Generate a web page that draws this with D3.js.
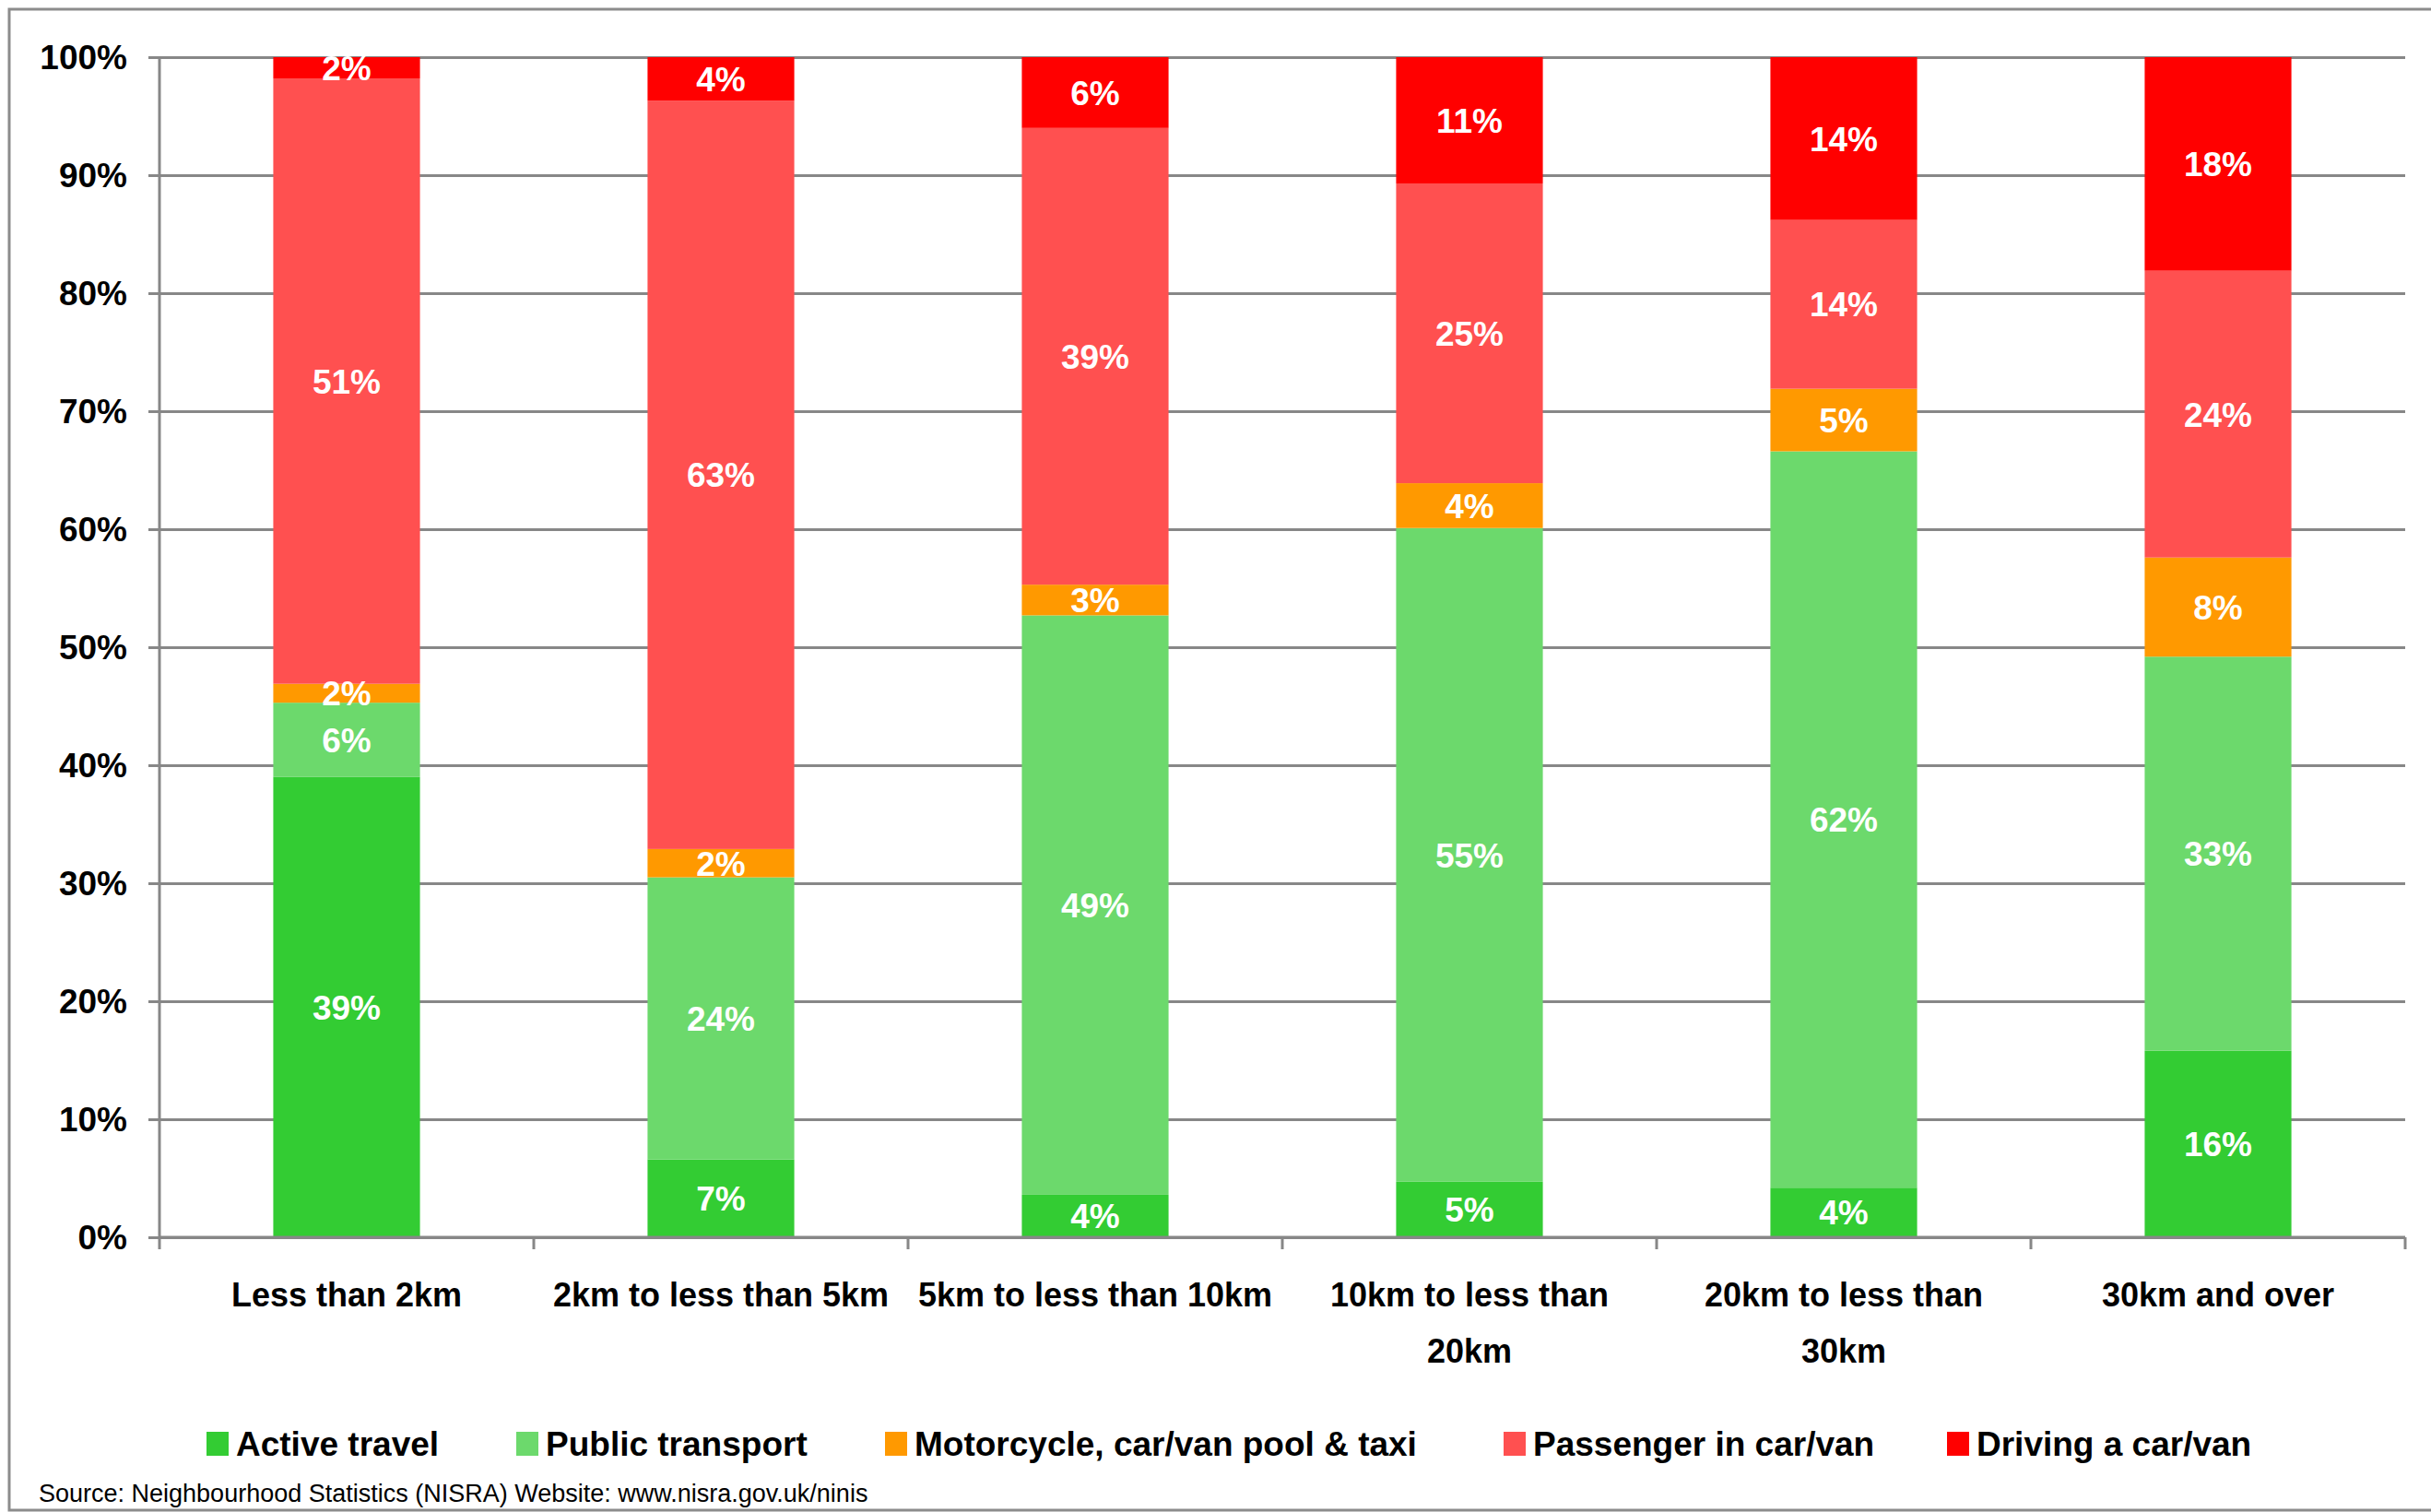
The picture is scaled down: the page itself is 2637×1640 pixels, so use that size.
<!DOCTYPE html>
<html>
<head>
<meta charset="utf-8">
<script src="https://cdn.jsdelivr.net/npm/d3@7"></script>
<style>
  html, body { margin: 0; padding: 0; background: #fff; }
  svg { display: block; }
  text { font-family: "Liberation Sans", Arial, sans-serif; }
</style>
</head>
<body>
<svg id="chart" width="2637" height="1640"></svg>
<script>
// categories (distance travelled) and the line breaks used under the axis
const categories = ["Less than 2km", "2km to less than 5km", "5km to less than 10km",
    "10km to less than 20km", "20km to less than 30km", "30km and over"]
const categoryLines = [["Less than 2km"], ["2km to less than 5km"], ["5km to less than 10km"],
    ["10km to less than", "20km"], ["20km to less than", "30km"], ["30km and over"]]

const seriesNames = ["Active travel", "Public transport", "Motorcycle, car/van pool & taxi",
    "Passenger in car/van", "Driving a car/van"]
const seriesColors = ["#33cc33", "#6cd96c", "#ff9900", "#ff5050", "#ff0000"]

// percentages per series, in category order
const activeTravel = [39.0, 6.6, 3.6, 4.7, 4.2, 15.8]
const publicTransport = [6.3, 23.9, 49.1, 55.4, 62.4, 33.4]
const motorcycleTaxi = [1.6, 2.4, 2.6, 3.8, 5.3, 8.4]
const passenger = [51.3, 63.4, 38.7, 25.4, 14.3, 24.3]
const driving = [1.8, 3.7, 6.0, 10.7, 13.8, 18.1]

const yTicks = [0, 10, 20, 30, 40, 50, 60, 70, 80, 90, 100]
const sourceText = "Source: Neighbourhood Statistics (NISRA) Website: www.nisra.gov.uk/ninis"

const seriesValues = [activeTravel, publicTransport, motorcycleTaxi, passenger, driving]

// rows for d3.stack
const rows = categories.map((c, i) => {
    const row = { category: c }
    seriesNames.forEach((s, j) => { row[s] = seriesValues[j][i] })
    return row
})

const svg = d3.select("#chart")
const gridColor = "#878787"

// outer frame
svg.append("rect")
    .attr("x", 10).attr("y", 10)
    .attr("width", 2640).attr("height", 1628)
    .attr("fill", "none")
    .attr("stroke", "#8c8c8c")
    .attr("stroke-width", 3)

const plot = { left: 173, right: 2609, top: 62, bottom: 1342 }

const x = d3.scaleBand()
    .domain(categories)
    .range([plot.left, plot.right])
    .paddingInner(0.608)
    .paddingOuter(0.304)

const y = d3.scaleLinear()
    .domain([0, 100])
    .range([plot.bottom, plot.top])

// gridlines + y axis
const yAxis = d3.axisLeft(y)
    .tickValues(yTicks)
    .tickFormat(d => d + "%")
    .tickSize(-(plot.right - plot.left))
    .tickPadding(35)

const gy = svg.append("g")
    .attr("transform", `translate(${plot.left},0)`)
    .call(yAxis)
gy.select(".domain").remove()
gy.selectAll(".tick line")
    .attr("x1", -12)
    .attr("stroke", gridColor)
    .attr("stroke-width", 3)
gy.selectAll(".tick text")
    .attr("font-size", 37)
    .attr("font-weight", "bold")
    .attr("fill", "#000")
    .attr("dy", "0.35em")

// vertical axis line
svg.append("line")
    .attr("x1", plot.left).attr("x2", plot.left)
    .attr("y1", plot.top).attr("y2", plot.bottom)
    .attr("stroke", gridColor).attr("stroke-width", 3)

// stacked bars
const stack = d3.stack().keys(seriesNames)
const layers = stack(rows)

const layerG = svg.append("g").selectAll("g")
    .data(layers)
    .join("g")
    .attr("fill", (d, i) => seriesColors[i])

layerG.selectAll("rect")
    .data(d => d)
    .join("rect")
    .attr("x", d => x(d.data.category))
    .attr("width", x.bandwidth())
    .attr("y", d => y(d[1]))
    .attr("height", d => y(d[0]) - y(d[1]))

// x axis line and category separator ticks
const bounds = d3.range(categories.length + 1).map(i => plot.left + i * x.step())
svg.append("line")
    .attr("x1", plot.left).attr("x2", plot.right)
    .attr("y1", plot.bottom).attr("y2", plot.bottom)
    .attr("stroke", gridColor).attr("stroke-width", 3)
svg.append("g").selectAll("line")
    .data(bounds)
    .join("line")
    .attr("x1", d => d).attr("x2", d => d)
    .attr("y1", plot.bottom).attr("y2", plot.bottom + 13)
    .attr("stroke", gridColor).attr("stroke-width", 3)

// data labels
const labelG = svg.append("g")
layers.forEach(layer => {
    labelG.selectAll(null)
        .data(layer)
        .join("text")
        .attr("x", d => x(d.data.category) + x.bandwidth() / 2)
        .attr("y", d => (y(d[0]) + y(d[1])) / 2)
        .attr("dy", "0.36em")
        .attr("text-anchor", "middle")
        .attr("font-size", 37)
        .attr("font-weight", "bold")
        .attr("fill", "#fff")
        .text(d => Math.round(d[1] - d[0]) + "%")
})

// category labels
const catG = svg.append("g").selectAll("text")
    .data(categories)
    .join("text")
    .attr("text-anchor", "middle")
    .attr("font-size", 36)
    .attr("font-weight", "bold")
    .attr("fill", "#000")
catG.each(function (d, i) {
    const cx = x(d) + x.bandwidth() / 2
    d3.select(this).selectAll("tspan")
        .data(categoryLines[i])
        .join("tspan")
        .attr("x", cx)
        .attr("y", (l, j) => 1404 + j * 61)
        .attr("dy", "0.35em")
        .text(l => l)
})

// legend
const legendX = [224, 560, 960, 1631, 2112]
const legendY = 1566
const legend = svg.append("g").selectAll("g")
    .data(seriesNames)
    .join("g")
    .attr("transform", (d, i) => `translate(${legendX[i]},${legendY})`)
legend.append("rect")
    .attr("x", 0).attr("y", -13)
    .attr("width", 24).attr("height", 26)
    .attr("fill", (d, i) => seriesColors[i])
legend.append("text")
    .attr("x", 32)
    .attr("dy", "0.35em")
    .attr("font-size", 37)
    .attr("font-weight", "bold")
    .attr("fill", "#000")
    .text(d => d)

// source line
svg.append("text")
    .attr("x", 42).attr("y", 1620)
    .attr("dy", "0.35em")
    .attr("font-size", 27)
    .attr("fill", "#000")
    .text(sourceText)
</script>
</body>
</html>
